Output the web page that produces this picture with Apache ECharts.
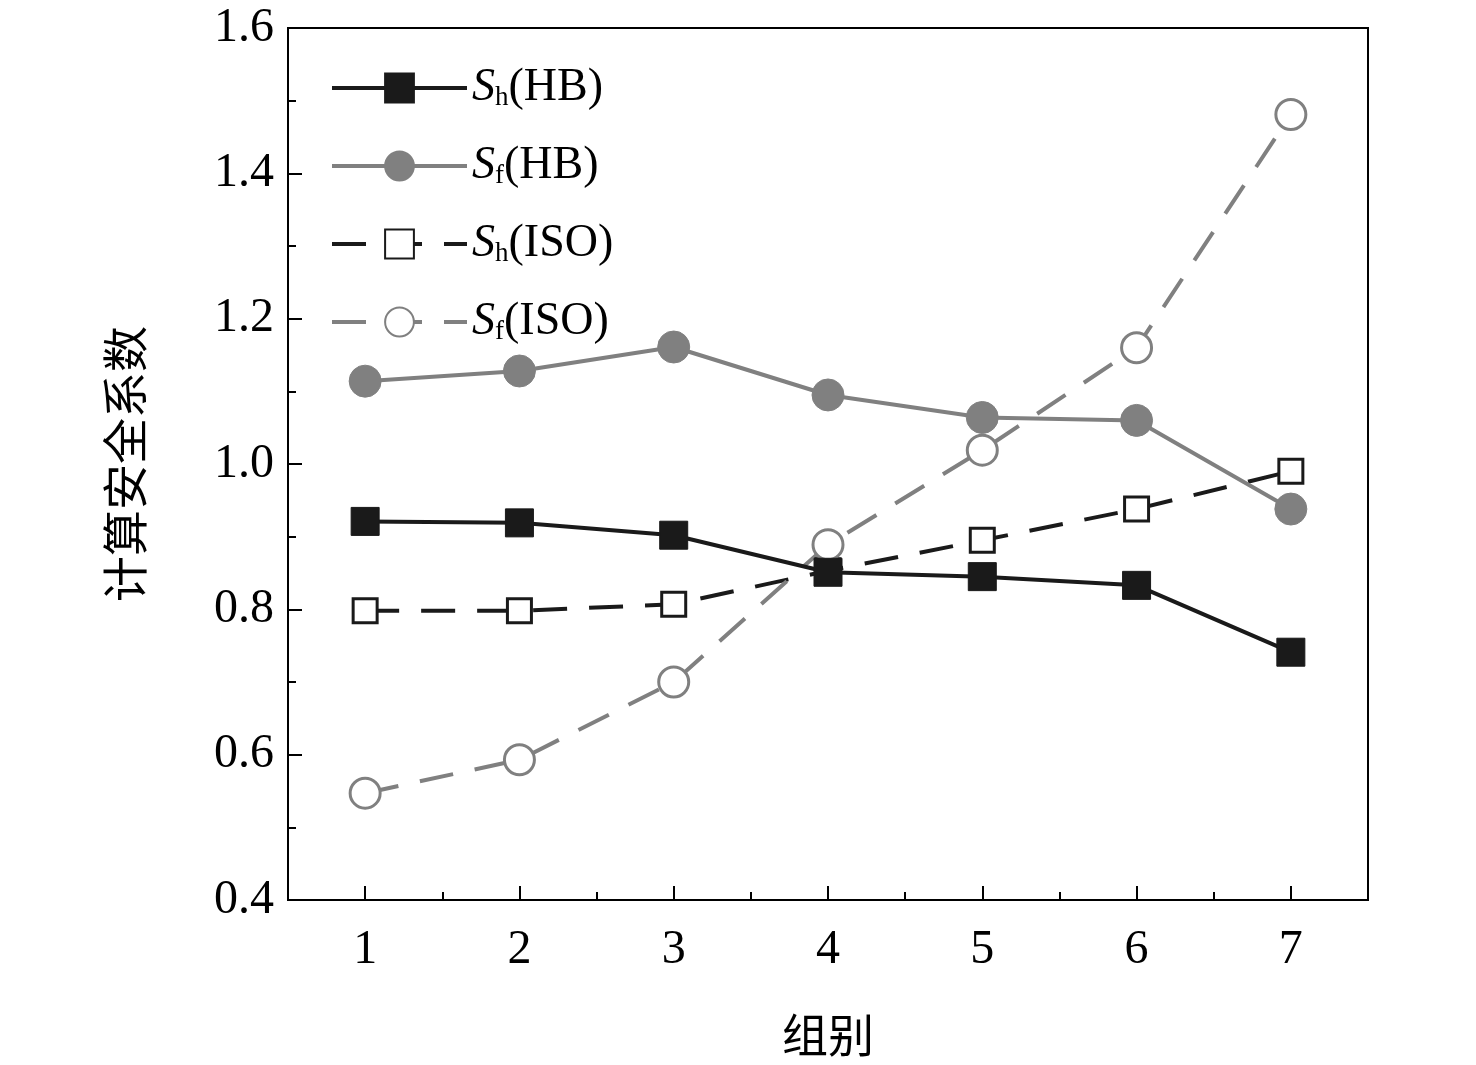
<!DOCTYPE html>
<html><head><meta charset="utf-8">
<script src="https://cdn.jsdelivr.net/npm/echarts@6/dist/echarts.min.js"></script>
<style>html,body{margin:0;padding:0;background:#fff}#c{width:1476px;height:1065px}</style>
</head><body><div id="c"></div>
<script>
// 组别
var groups = [1, 2, 3, 4, 5, 6, 7];
var halfTicks = [1.5, 2.5, 3.5, 4.5, 5.5, 6.5];
var shHB  = [0.921, 0.919, 0.902, 0.851, 0.845, 0.833, 0.741];
var sfHB  = [1.114, 1.128, 1.161, 1.095, 1.064, 1.060, 0.938];
var shISO = [0.798, 0.798, 0.807, 0.853, 0.895, 0.938, 0.990];
var sfISO = [0.547, 0.593, 0.700, 0.889, 1.019, 1.160, 1.481];

var names = ['Sh(HB)', 'Sf(HB)', 'Sh(ISO)', 'Sf(ISO)'];
var labels = {
  'Sh(HB)': '{i|S}{s|h}{n|(HB)}',
  'Sf(HB)': '{i|S}{s|f}{n|(HB)}',
  'Sh(ISO)': '{i|S}{s|h}{n|(ISO)}',
  'Sf(ISO)': '{i|S}{s|f}{n|(ISO)}'
};

function pts(arr){
  var out = [];
  for (var i = 0; i < groups.length; i++) out.push([groups[i], arr[i]]);
  return out;
}

var font = 'Liberation Serif, Times New Roman, serif';
var dark = '#1a1a1a', gray = '#808080';

function mk(name, data, color, lineType, symbol, filled, size){
  return {
    name: name, type: 'line', data: pts(data),
    symbol: symbol, symbolSize: size,
    lineStyle: {color: color, width: 4, type: lineType === 'dashed' ? [34, 22] : 'solid'},
    itemStyle: {color: filled ? color : '#fff', borderColor: color, borderWidth: filled ? 1 : 3},
    z: filled ? 3 : 2
  };
}

var chart = echarts.init(document.getElementById('c'));
chart.setOption({
  animation: false,
  grid: {left: 288, top: 28, width: 1080, height: 872, show: true, borderColor: '#000', borderWidth: 2, backgroundColor: 'transparent'},
  legend: {
    left: 325, top: 60, orient: 'vertical', itemGap: 32,
    itemWidth: 135, itemHeight: 36,
    data: names,
    lineStyle: {width: 4},
    formatter: function(n){ return labels[n]; },
    textStyle: {
      fontFamily: font, fontSize: 46, color: '#000',
      rich: {
        i: {fontFamily: font, fontSize: 46, fontStyle: 'italic', color: '#000'},
        s: {fontFamily: font, fontSize: 27, color: '#000', verticalAlign: 'bottom', padding: [16, 0, 0, 0]},
        n: {fontFamily: font, fontSize: 46, color: '#000'}
      }
    }
  },
  xAxis: [{
    type: 'value', min: 0.5, max: 7.5, interval: 0.5,
    name: '组别', nameLocation: 'middle', nameGap: 112,
    nameTextStyle: {fontFamily: 'Noto Sans CJK SC', fontSize: 46, color: '#000'},
    axisLine: {lineStyle: {color: '#000', width: 2}},
    axisTick: {inside: true, length: 14, lineStyle: {color: '#000', width: 2},
      customValues: groups},
    axisLabel: {fontFamily: font, fontSize: 48, color: '#000', margin: 26,
      customValues: groups, formatter: function(v){ return String(v); }},
    splitLine: {show: false}
  }, {
    type: 'value', min: 0.5, max: 7.5, position: 'bottom',
    axisLine: {show: false},
    axisTick: {inside: true, length: 8, lineStyle: {color: '#000', width: 2}, customValues: halfTicks},
    axisLabel: {show: false},
    splitLine: {show: false}
  }],
  yAxis: {
    type: 'value', min: 0.4, max: 1.6, interval: 0.2,
    name: '计算安全系数', nameLocation: 'middle', nameGap: 140,
    nameTextStyle: {fontFamily: 'Noto Sans CJK SC', fontSize: 46, color: '#000'},
    axisLine: {show: true, lineStyle: {color: '#000', width: 2}},
    axisTick: {inside: true, length: 14, lineStyle: {color: '#000', width: 2}},
    minorTick: {show: true, splitNumber: 2, length: 8, lineStyle: {color: '#000', width: 2}},
    axisLabel: {fontFamily: font, fontSize: 48, color: '#000', margin: 14,
      formatter: function(v){ return v.toFixed(1); }},
    splitLine: {show: false}
  },
  series: [
    mk('Sh(HB)', shHB, dark, 'solid', 'rect', true, 28),
    mk('Sf(HB)', sfHB, gray, 'solid', 'circle', true, 32),
    mk('Sh(ISO)', shISO, dark, 'dashed', 'rect', false, 24),
    mk('Sf(ISO)', sfISO, gray, 'dashed', 'circle', false, 30)
  ]
});
</script></body></html>
